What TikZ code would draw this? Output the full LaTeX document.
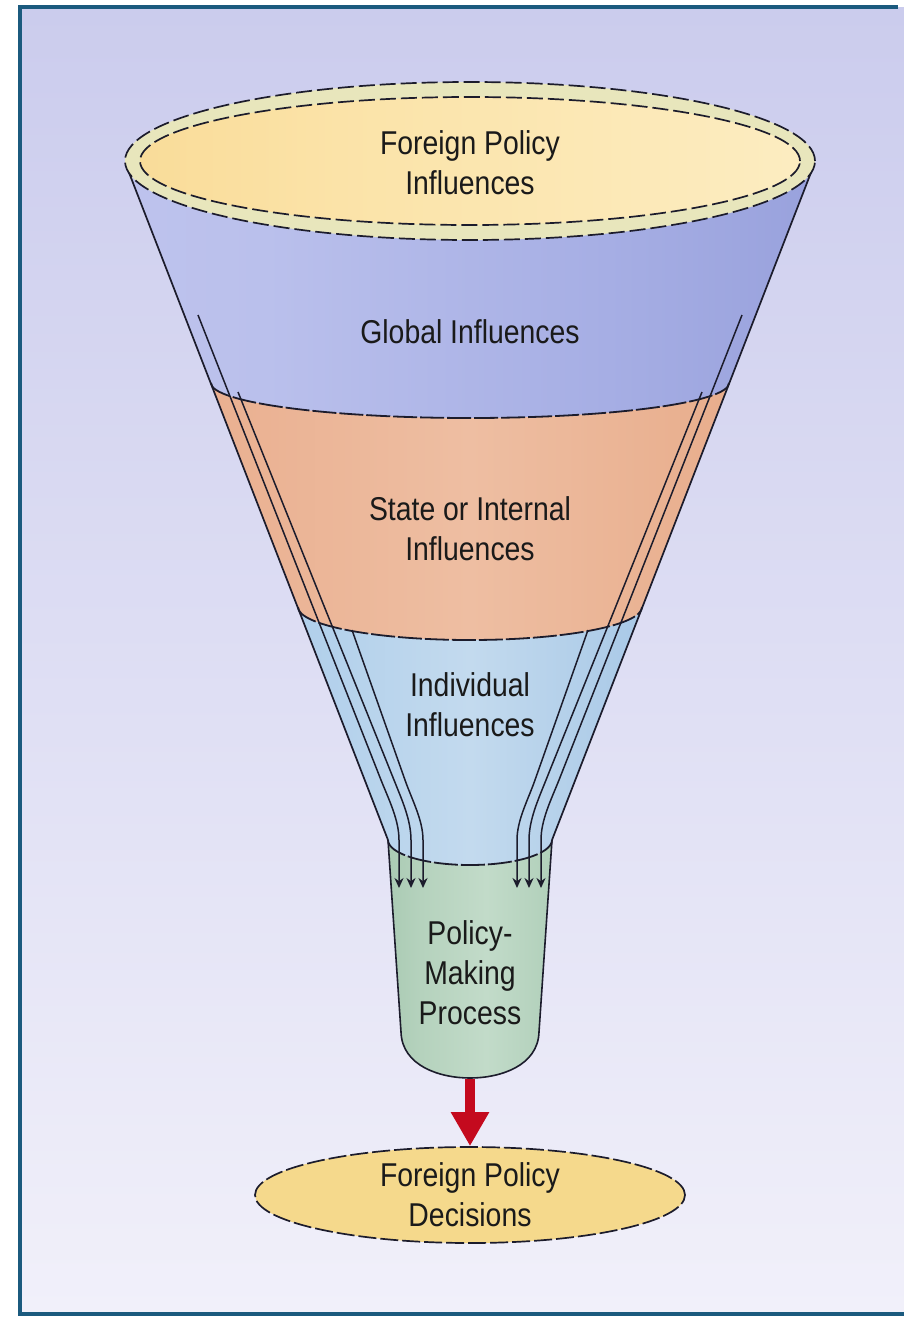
\documentclass[tikz,border=0pt]{standalone}
\usepackage{fontspec}
\setmainfont{Liberation Sans}[FakeStretch=0.86]
\usetikzlibrary{arrows.meta,shapes.geometric}
\definecolor{fcol}{HTML}{1B5A7E}
\definecolor{bgtop}{HTML}{CBCCED}
\definecolor{bgbot}{HTML}{F1F0FA}
\definecolor{ink}{HTML}{1C1C2C}
\definecolor{txt}{HTML}{1A1A1A}
\definecolor{ringcol}{HTML}{E8E6BC}
\definecolor{decfill}{HTML}{F5D98C}
\definecolor{arrowred}{HTML}{C40A1E}
% global band
\definecolor{g0}{HTML}{98A0DB}\definecolor{g1}{HTML}{C2C6EE}\definecolor{g2}{HTML}{BAC0EC}
\definecolor{g3}{HTML}{A6AEE4}\definecolor{g4}{HTML}{838DD0}
% state band
\definecolor{s0}{HTML}{E0966F}\definecolor{s1}{HTML}{E9AD8D}\definecolor{s2}{HTML}{EEBEA2}
\definecolor{s3}{HTML}{E7AA88}\definecolor{s4}{HTML}{DC956F}
% individual band
\definecolor{i0}{HTML}{8DB8E0}\definecolor{i1}{HTML}{B0CFEB}\definecolor{i2}{HTML}{C3DAEE}
\definecolor{i3}{HTML}{A9C9E7}\definecolor{i4}{HTML}{8CB6DE}
% pipe
\definecolor{p0}{HTML}{8FB89C}\definecolor{p1}{HTML}{B5D2BD}\definecolor{p2}{HTML}{C2DBC9}
\definecolor{p3}{HTML}{9CC2A8}
% top ellipse
\definecolor{t0}{HTML}{F6D080}\definecolor{t1}{HTML}{FBE3A8}\definecolor{t2}{HTML}{FDF3D2}
\pgfdeclarehorizontalshading{globsh}{100bp}{color(0bp)=(g0); color(12bp)=(g1); color(35bp)=(g2); color(60bp)=(g3); color(100bp)=(g4)}
\pgfdeclarehorizontalshading{statesh}{100bp}{color(0bp)=(s0); color(20bp)=(s1); color(50bp)=(s2); color(80bp)=(s3); color(100bp)=(s4)}
\pgfdeclarehorizontalshading{indsh}{100bp}{color(0bp)=(i0); color(25bp)=(i1); color(50bp)=(i2); color(75bp)=(i3); color(100bp)=(i4)}
\pgfdeclarehorizontalshading{pipesh}{100bp}{color(0bp)=(p0); color(35bp)=(p1); color(55bp)=(p2); color(100bp)=(p3)}
\pgfdeclarehorizontalshading{topsh}{100bp}{color(0bp)=(t0); color(40bp)=(t1); color(100bp)=(t2)}
\tikzset{
  lab/.style={font=\fontsize{33}{40}\selectfont, text=txt, align=center},
  edgeline/.style={draw=ink, line width=1.7pt},
  bound/.style={draw=ink, line width=1.8pt, dash pattern=on 24pt off 3pt},
  flow/.style={draw=ink, line width=1.5pt, -{Stealth[length=10pt,width=9pt]}},
  ellborder/.style={draw=ink, line width=1.7pt, dash pattern=on 16pt off 5pt},
}
\begin{document}
\begin{tikzpicture}[x=1pt,y=-1pt]
\useasboundingbox (0,0) rectangle (904,1317);
\fill[white] (0,0) rectangle (904,1317);
\shade[top color=bgtop, bottom color=bgbot] (20,7) rectangle (904,1314);
\draw[fcol, line width=4pt] (898,7) -- (20,7) -- (20,1314) -- (904,1314);

% pipe
\path[shading=pipesh, draw=ink, line width=1.6pt] (388,840) -- (401,1032) .. controls (402,1066) and (440,1078) .. (470,1078) .. controls (500,1078) and (538,1066) .. (539,1032) -- (552,840) -- cycle;
\coordinate (pipebot) at (470,1079);

% bands
\path[shading=globsh] (128,170) -- (388,840) .. controls (388,853.8) and (424.7,865) .. (470,865) .. controls (515.3,865) and (552,853.8) .. (552,840) -- (812,170) -- cycle;
\path[shading=statesh] (211,383) .. controls (211,402.3) and (327,418) .. (470,418) .. controls (613,418) and (729,402.3) .. (729,383) -- (552,840) .. controls (552,853.8) and (515.3,865) .. (470,865) .. controls (424.7,865) and (388,853.8) .. (388,840) -- cycle;
\path[shading=indsh] (298,607) .. controls (298,625.2) and (375,640) .. (470,640) .. controls (565,640) and (642,625.2) .. (642,607) -- (552,840) .. controls (552,853.8) and (515.3,865) .. (470,865) .. controls (424.7,865) and (388,853.8) .. (388,840) -- cycle;

% boundaries
\draw[bound] (211,383) .. controls (211,402.3) and (327,418) .. (470,418) .. controls (613,418) and (729,402.3) .. (729,383);
\draw[bound] (298,607) .. controls (298,625.2) and (375,640) .. (470,640) .. controls (565,640) and (642,625.2) .. (642,607);
\draw[bound] (388,840) .. controls (388,853.8) and (424.7,865) .. (470,865) .. controls (515.3,865) and (552,853.8) .. (552,840);

% funnel edges
\coordinate (eltop) at (128,170); \coordinate (elbot) at (388,840);
\coordinate (ertop) at (812,170); \coordinate (erbot) at (552,840);
\draw[edgeline] (eltop) -- (elbot);
\draw[edgeline] (ertop) -- (erbot);

% flow lines
\coordinate (l1s) at (198,315); \coordinate (l1e) at (399,888);
\coordinate (l2s) at (238,392); \coordinate (l2e) at (411,888);
\coordinate (l3s) at (352,630); \coordinate (l3e) at (423,888);
\coordinate (r1s) at (742,315); \coordinate (r1e) at (541,888);
\coordinate (r2s) at (702,392); \coordinate (r2e) at (529,888);
\coordinate (r3s) at (588,630); \coordinate (r3e) at (517,888);
\draw[flow] (l1s) -- (381,780) .. controls (389,800) and (399,820) .. (399,840) -- (l1e);
\draw[flow] (l2s) -- (394,780) .. controls (402,800) and (411,820) .. (411,840) -- (l2e);
\draw[flow] (l3s) -- (405,780) .. controls (412,800) and (423,820) .. (423,840) -- (l3e);
\draw[flow] (r1s) -- (559,780) .. controls (551,800) and (541,820) .. (541,840) -- (r1e);
\draw[flow] (r2s) -- (546,780) .. controls (538,800) and (529,820) .. (529,840) -- (r2e);
\draw[flow] (r3s) -- (535,780) .. controls (528,800) and (517,820) .. (517,840) -- (r3e);

% top rim
\node[ellipse, ellborder, fill=ringcol, minimum width=690pt, minimum height=158pt, inner sep=0pt] (rim) at (470,161) {};
\node[ellipse, ellborder, shade, shading=topsh, minimum width=660pt, minimum height=128pt, inner sep=0pt] (mouth) at (470,161) {};
\node[lab] (inftext) at (470,163) {Foreign Policy\\Influences};

% band labels
\node[lab] (global) at (470,332) {Global Influences};
\node[lab] (state) at (470,529) {State or Internal\\Influences};
\node[lab] (indiv) at (470,705) {Individual\\Influences};
\node[lab] (process) at (470,973) {Policy-\\Making\\Process};

% decisions
\node[ellipse, draw=ink, line width=1.7pt, dash pattern=on 18pt off 4pt, fill=decfill, minimum width=430pt, minimum height=96pt, inner sep=0pt, lab] (decisions) at (470,1195) {Foreign Policy\\Decisions};
\draw[line width=10pt, arrowred, -{Triangle[length=34pt,width=36pt]}] (pipebot) -- (decisions.north);
\end{tikzpicture}
\end{document}
